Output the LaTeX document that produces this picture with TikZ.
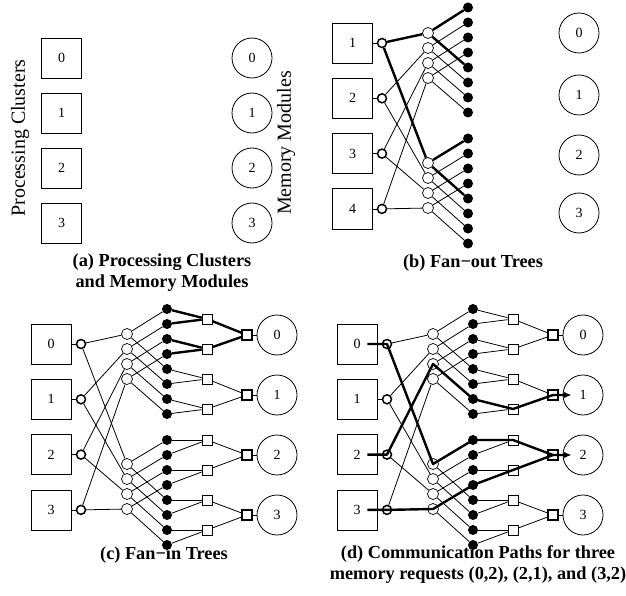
\documentclass[tikz,border=0pt]{standalone}
\usepackage{fontspec}
\setmainfont{Liberation Serif}
\usetikzlibrary{arrows.meta}

\begin{document}
\begin{tikzpicture}[
    x=1pt, y=-1pt,
    every node/.style={font=\fontsize{14}{16}\selectfont},
    wire/.style={line width=0.8pt},
    hot/.style={line width=2.4pt, line join=round},
    pcbox/.style={draw, line width=0.8pt, minimum size=40pt, inner sep=0pt},
    membox/.style={draw, circle, line width=0.8pt, minimum size=40pt, inner sep=0pt},
    lvlone/.style={draw, circle, line width=1.5pt, fill=white, minimum size=9pt, inner sep=0pt},
    lvltwo/.style={draw, circle, line width=0.7pt, fill=white, minimum size=11pt, inner sep=0pt},
    leaf/.style={circle, fill=black, minimum size=10pt, inner sep=0pt},
    mergebox/.style={draw, line width=0.7pt, fill=white, minimum size=10pt, inner sep=0pt},
    outbox/.style={draw, line width=1.5pt, fill=white, minimum size=10pt, inner sep=0pt},
    side/.style={font=\fontsize{20}{22}\selectfont, rotate=90},
    subcap/.style={font=\fontsize{18.3}{21}\selectfont\bfseries, align=center}
]
\useasboundingbox (0,0) rectangle (626,596);

% (a) clusters and modules
\foreach \i in {0,...,3} {
  \node[pcbox] (aP\i) at (61.5, 58+55*\i) {\i};
  \node[membox] (aM\i) at (252, 58+55*\i) {\i};
}
\node[side] (apc) at (20,138) {Processing Clusters};
\node[side] (amm) at (286,143) {Memory Modules};
\node[subcap] (acap) at (162,273) {(a) Processing Clusters\\and Memory Modules};

% (b) fan-out trees
\foreach \i/\l in {0/1,1/2,2/3,3/4} {
  \node[pcbox] (bP\i) at (352.5, 43+55.3*\i) {\l};
  \node[lvlone] (bL\i) at (382, 43+55.3*\i) {};
  \node[lvltwo] (bU\i) at (428, 33+15*\i) {};
  \node[lvltwo] (bW\i) at (428, 163+15*\i) {};
}
\foreach \k in {0,...,7} {
  \node[leaf] (bD\k) at (468, 7.5+15*\k) {};
  \node[leaf] (bE\k) at (468, 138.5+15*\k) {};
}
\foreach \m/\y in {0/33,1/95,2/155,3/213}
  \node[membox] (bM\m) at (579,\y) {\m};

\foreach \i in {0,...,3} {
  \pgfmathtruncatemacro\kk{\i+4}
  \draw[wire] (bP\i) -- (bL\i);
  \draw[wire] (bL\i) -- (bU\i);
  \draw[wire] (bL\i) -- (bW\i);
  \draw[wire] (bU\i) -- (bD\i);
  \draw[wire] (bU\i) -- (bD\kk);
  \draw[wire] (bW\i) -- (bE\i);
  \draw[wire] (bW\i) -- (bE\kk);
}
\draw[hot] (bL0) -- (bU0); \draw[hot] (bL0) -- (bW0);
\draw[hot] (bU0) -- (bD0); \draw[hot] (bU0) -- (bD4);
\draw[hot] (bW0) -- (bE0); \draw[hot] (bW0) -- (bE4);
\node[subcap] (bcap) at (473,263) {(b) Fan−out Trees};

% (c) and (d) share the full network
\foreach \pn/\dx in {c/0,d/306} {
\begin{scope}[xshift=\dx, name prefix=\pn]
  \foreach \i in {0,...,3} {
    \node[pcbox] (P\i) at (51, 344+55.3*\i) {\i};
    \node[lvlone] (L\i) at (81, 344+55.3*\i) {};
    \node[lvltwo] (U\i) at (127, 334+15*\i) {};
    \node[lvltwo] (W\i) at (127, 464+15*\i) {};
    \node[mergebox] (S\i) at (207, 319+30*\i) {};
    \node[mergebox] (T\i) at (207, 440+30*\i) {};
    \node[outbox] (O\i) at (247, 335+60*\i) {};
    \node[membox] (M\i) at (277, 335+60*\i) {\i};
  }
  \foreach \k in {0,...,7} {
    \node[leaf] (D\k) at (167, 309+15*\k) {};
    \node[leaf] (E\k) at (167, 440+15*\k) {};
  }
  \foreach \i in {0,...,3} {
    \pgfmathtruncatemacro\kk{\i+4}
    \pgfmathtruncatemacro\ka{2*\i}
    \pgfmathtruncatemacro\kb{2*\i+1}
    \draw[wire] (P\i) -- (L\i);
    \draw[wire] (L\i) -- (U\i);
    \draw[wire] (L\i) -- (W\i);
    \draw[wire] (U\i) -- (D\i);
    \draw[wire] (U\i) -- (D\kk);
    \draw[wire] (W\i) -- (E\i);
    \draw[wire] (W\i) -- (E\kk);
    \draw[wire] (D\ka) -- (S\i);
    \draw[wire] (D\kb) -- (S\i);
    \draw[wire] (E\ka) -- (T\i);
    \draw[wire] (E\kb) -- (T\i);
    \draw[wire] (O\i) -- (M\i);
  }
  \draw[wire] (S0) -- (O0); \draw[wire] (S1) -- (O0);
  \draw[wire] (S2) -- (O1); \draw[wire] (S3) -- (O1);
  \draw[wire] (T0) -- (O2); \draw[wire] (T1) -- (O2);
  \draw[wire] (T2) -- (O3); \draw[wire] (T3) -- (O3);
\end{scope}
}

% fan-in to module 0
\draw[hot] (cD0) -- (cS0); \draw[hot] (cD1) -- (cS0);
\draw[hot] (cD2) -- (cS1); \draw[hot] (cD3) -- (cS1);
\draw[hot] (cS0) -- (cO0); \draw[hot] (cS1) -- (cO0);
\node[subcap] (ccap) at (164,555) {(c) Fan−in Trees};

% requests (0,2), (2,1), (3,2)
\coordinate (dA0) at ([xshift=-10]dP0.east);
\coordinate (dA2) at ([xshift=-10]dP2.east);
\coordinate (dA3) at ([xshift=-10]dP3.east);
\coordinate (dR1) at ([xshift=9]dM1.west);
\coordinate (dR2) at ([xshift=9]dM2.west);
\draw[hot, -{Latex[length=8pt,width=7pt]}] (dA0) -- (dL0.center) -- (dW0.center)
  -- (dE0.center) -- (dT0.center) -- (dO2.center) -- (dR2);
\draw[hot, -{Latex[length=8pt,width=7pt]}] (dA2) -- (dL2.center) -- (dU2.center)
  -- (dD6.center) -- (dS3.center) -- (dO1.center) -- (dR1);
\draw[hot] (dA3) -- (dL3.center) -- (dW3.center)
  -- (dE3.center) -- (dT1.center) -- (dO2.center);
\node[subcap] (dcap) at (478,565) {(d) Communication Paths for three\\memory requests (0,2), (2,1), and (3,2)};
\end{tikzpicture}
\end{document}
